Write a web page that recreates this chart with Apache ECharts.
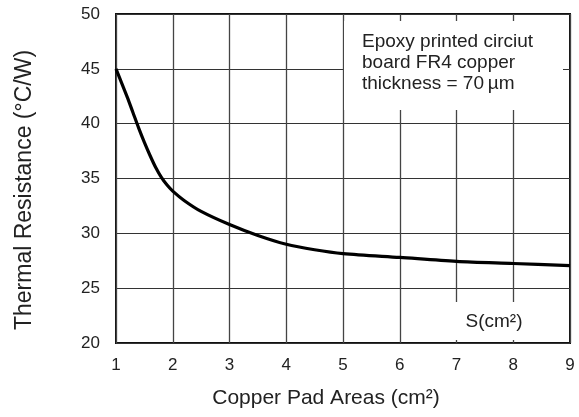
<!DOCTYPE html>
<html>
<head>
<meta charset="utf-8">
<script src="https://cdn.jsdelivr.net/npm/echarts@6/dist/echarts.min.js"></script>
<style>
  html, body { margin: 0; padding: 0; background: #fff; }
  #chart { width: 579px; height: 417px; }
</style>
</head>
<body>
<div id="chart"></div>
<script>
// copper pad area (cm2) vs thermal resistance (C/W)
var padArea = [1, 1.1, 1.2, 1.3, 1.4, 1.5, 1.6, 1.7, 1.8, 1.9, 2, 2.2, 2.5, 3, 3.5, 4, 4.5, 5, 6, 7, 8, 9];
var thermalRes = [45, 43.7, 42.4, 41.0, 39.6, 38.3, 37.1, 36.0, 35.1, 34.4, 33.85, 33.0, 32.0, 30.8, 29.8, 29.0, 28.5, 28.15, 27.8, 27.45, 27.25, 27.05];
var xTicks = [1, 2, 3, 4, 5, 6, 7, 8, 9];
var yTicks = [20, 25, 30, 35, 40, 45, 50];
var noteLines = ['Epoxy printed circiut', 'board FR4 copper', 'thickness = 70\u2009\u00b5m'];

var font = 'Liberation Sans, Arial, sans-serif';
var myChart = echarts.init(document.getElementById('chart'));

var option = {
  animation: false,
  grid: {
    left: 116, top: 14, right: 9, bottom: 74,
    show: true, borderColor: '#111', borderWidth: 2, backgroundColor: 'transparent'
  },
  xAxis: {
    type: 'value',
    min: xTicks[0], max: xTicks[xTicks.length - 1], interval: 1,
    axisLine: { show: false },
    axisTick: { show: false },
    axisLabel: { color: '#222', fontSize: 17, fontFamily: font, margin: 14 },
    splitLine: { show: true, lineStyle: { color: '#444', width: 1.3 } }
  },
  yAxis: {
    type: 'value',
    min: yTicks[0], max: yTicks[yTicks.length - 1], interval: 5,
    axisLine: { show: false },
    axisTick: { show: false },
    axisLabel: { color: '#222', fontSize: 17, fontFamily: font, margin: 16 },
    splitLine: { show: true, lineStyle: { color: '#333', width: 1.2 } }
  },
  graphic: [
    {
      type: 'rect', z: 50,
      shape: { x: 344, y: 21, width: 219, height: 89 },
      style: { fill: '#fff' }
    },
    {
      type: 'text', z: 51, x: 362, y: 31.5,
      style: {
        text: noteLines.join('\n'), fill: '#222', font: '19px ' + font,
        lineHeight: 21, verticalAlign: 'top', align: 'left'
      }
    },
    {
      type: 'rect', z: 50,
      shape: { x: 420, y: 302, width: 148, height: 38 },
      style: { fill: '#fff' }
    },
    {
      type: 'text', z: 51, x: 494, y: 322,
      style: { text: 'S(cm\u00b2)', fill: '#222', font: '19px ' + font, align: 'center', verticalAlign: 'middle' }
    },
    {
      type: 'text', z: 51, x: 326, y: 398,
      style: { text: 'Copper Pad Areas (cm\u00b2)', fill: '#222', font: '21px ' + font, align: 'center', verticalAlign: 'middle' }
    },
    {
      type: 'text', z: 51, x: 25, y: 190, rotation: Math.PI / 2,
      style: { text: 'Thermal Resistance (\u00b0C/W)', fill: '#222', font: '23px ' + font, align: 'center', verticalAlign: 'middle' }
    }
  ],
  series: [
    {
      type: 'line',
      data: padArea.map(function (x, i) { return [x, thermalRes[i]]; }),
      smooth: 0.3,
      symbol: 'none',
      lineStyle: { color: '#000', width: 3.2 },
      z: 10
    }
  ]
};

if (option && typeof option === 'object') {
  myChart.setOption(option, true);
}
</script>
</body>
</html>
